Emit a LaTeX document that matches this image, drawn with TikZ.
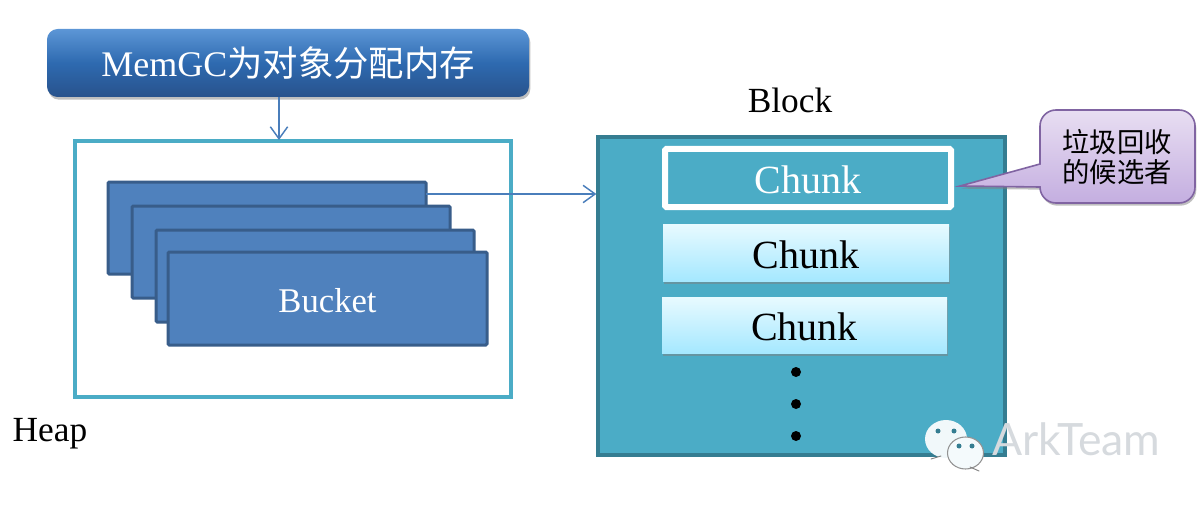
\documentclass[tikz,border=0pt]{standalone}
\usepackage{fontspec}
\setmainfont{Liberation Serif}
\newfontfamily\cjk{Noto Sans CJK SC}
\newfontfamily\wmfont{Lato}
\usepackage{xcolor}
\usetikzlibrary{arrows.meta, shadows}
\definecolor{mainblue}{RGB}{46,106,176}
\definecolor{maintop}{RGB}{92,150,214}
\definecolor{mainlow}{RGB}{40,82,140}
\definecolor{linkblue}{RGB}{74,126,187}
\definecolor{bucketblue}{RGB}{79,129,189}
\definecolor{bucketedge}{RGB}{56,93,138}
\definecolor{blockteal}{RGB}{75,172,198}
\definecolor{blockedge}{RGB}{53,125,145}
\definecolor{chunktop}{RGB}{232,250,255}
\definecolor{chunklow}{RGB}{165,232,255}
\definecolor{notetop}{RGB}{232,222,242}
\definecolor{notelow}{RGB}{196,174,224}
\definecolor{noteedge}{RGB}{128,100,162}
\definecolor{wmgray}{RGB}{214,218,222}
\newcommand{\lowtext}[1]{\raisebox{-1.5pt}[\height][\depth]{#1}}
\tikzset{
  size/.style 2 args={minimum width=#1*0.75pt, minimum height=#2*0.75pt, inner sep=0pt},
  softshadow/.style={drop shadow={shadow xshift=1pt, shadow yshift=-2pt, opacity=0.5}},
  mainblk/.style={rectangle, rounded corners=8pt, top color=maintop, bottom color=mainlow,
    middle color=mainblue, text=white, font=\fontsize{27}{30}\selectfont, softshadow},
  heapblk/.style={rectangle, draw=blockteal, fill=white, line width=3pt},
  bucketblk/.style={rectangle, rounded corners=1pt, draw=bucketedge, fill=bucketblue,
    line width=2.25pt, text=white, font=\fontsize{26}{30}\selectfont},
  blockblk/.style={rectangle, draw=blockedge, fill=blockteal, line width=2.5pt},
  chunkblk/.style={rectangle, top color=chunktop, bottom color=chunklow, softshadow,
    font=\fontsize{30}{32}\selectfont},
  markblk/.style={rectangle, rounded corners=1pt, draw=white, fill=blockteal, line width=4.5pt,
    text=white, font=\fontsize{30}{32}\selectfont, softshadow},
  lbl/.style={font=\fontsize{26.5}{30}\selectfont, inner sep=0pt},
  dotmark/.style={circle, fill=black, minimum size=7.5pt, inner sep=0pt},
  la/.style={-{Straight Barb[length=9pt, width=13pt]}, line width=1.1pt, color=linkblue},
}
\begin{document}
\begin{tikzpicture}[x=0.75pt, y=-0.75pt]
\useasboundingbox (0,0) rectangle (1202,506);

% left side
\node[mainblk, size={482}{68}] (main) at (288,63) {MemGC{\cjk\fontsize{26.5}{30}\selectfont 为对象分配内存}};
\node[heapblk, size={436}{256}] (heap) at (293,269) {};
\node[bucketblk, size={318}{92}] (bucketa) at (267,228) {};
\node[bucketblk, size={318}{92}] (bucketb) at (291,252) {};
\node[bucketblk, size={318}{92}] (bucketc) at (315,276) {};
\node[bucketblk, size={319}{93}] (bucketd) at (327.5,298.5) {\lowtext{Bucket}};
\node[lbl] (heaplbl) at (50,434) {Heap};

% right side
\node[blockblk, size={407}{318}] (block) at (801.5,296) {};
\node[lbl] (blocklbl) at (790,100) {Block};
\node[markblk, size={286}{58}] (chunka) at (808,178) {\lowtext{Chunk}};
\node[chunkblk, size={286}{57}] (chunkb) at (806,252.5) {\lowtext{Chunk}};
\node[chunkblk, size={285}{56}] (chunkc) at (804.5,325) {\lowtext{Chunk}};
\node[dotmark] (dota) at (796,372) {};
\node[dotmark] (dotb) at (796,404) {};
\node[dotmark] (dotc) at (796,436) {};

% links
\coordinate (heaptap) at (279,140);
\coordinate (buckettap) at (426,194);
\draw[la] (main.south -| heaptap) -- (heaptap);
\draw[la] (buckettap) -- (buckettap -| block.west);

% callout
\coordinate (tip) at (960,186);
\path[draw=noteedge, line width=1.2pt, top color=notetop, bottom color=notelow, softshadow]
  (tip) -- (1040,164) [rounded corners=12pt] -- (1040,110) -- (1195,110) -- (1195,203)
  -- (1040,203) [sharp corners] -- (1040,187) -- cycle;
\node[font=\cjk\fontsize{20.5}{22}\selectfont, align=center, inner sep=0pt] (note) at (1117,157)
  {垃圾回收\\的候选者};

% watermark
\fill[fill=white!92!blockteal] (946,439) ellipse (21 and 19);
\draw[gray, line width=0.7pt, line cap=round] (931,459) -- (941,456);
\foreach \x in {938,954} \fill[blockedge] (\x,431) circle (2.5);
\draw[fill=white!94!blockteal, draw=gray!85, line width=0.8pt] (965.5,453) ellipse (18 and 16);
\draw[gray, line width=0.7pt, line cap=round] (970,467) -- (979,471);
\foreach \x in {959,972} \fill[blockedge] (\x,446) circle (2.5);
\node[text=wmgray, font=\wmfont\fontsize{33.4}{36}\selectfont, inner sep=0pt, anchor=base west]
  (wm) at (992,455) {ArkTeam};
\end{tikzpicture}
\end{document}
